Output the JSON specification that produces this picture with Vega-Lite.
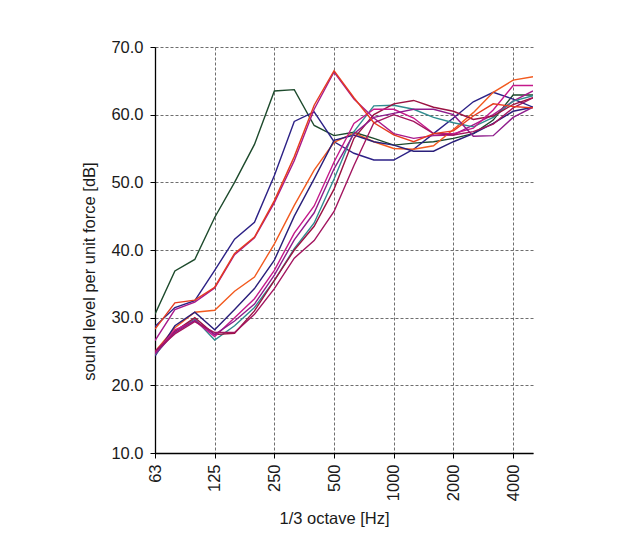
{
  "$schema": "https://vega.github.io/schema/vega-lite/v6.json",
  "width": 378,
  "height": 406,
  "autosize": {"type": "none"},
  "padding": {"left": 155, "top": 47, "right": 96, "bottom": 94},
  "background": "white",
  "config": {
    "font": "Liberation Sans",
    "view": {"stroke": null},
    "axis": {
      "labelFont": "Liberation Sans",
      "titleFont": "Liberation Sans",
      "labelFontSize": 16.5,
      "titleFontSize": 16.5,
      "titleFontWeight": "normal",
      "labelColor": "#1a1a1a",
      "titleColor": "#1a1a1a",
      "domainColor": "#000000",
      "domainWidth": 1.3,
      "tickColor": "#000000",
      "tickSize": 5,
      "gridColor": "#555555",
      "gridDash": [3, 2],
      "gridWidth": 1,
      "gridOpacity": 0.85
    }
  },
  "data": {
    "values": [
      {"series": "A", "band": 0, "level": 30.5}, {"series": "A", "band": 1, "level": 36.9}, {"series": "A", "band": 2, "level": 38.6}, {"series": "A", "band": 3, "level": 44.8}, {"series": "A", "band": 4, "level": 50.0},
      {"series": "A", "band": 5, "level": 55.6}, {"series": "A", "band": 6, "level": 63.5}, {"series": "A", "band": 7, "level": 63.7}, {"series": "A", "band": 8, "level": 58.4}, {"series": "A", "band": 9, "level": 56.9},
      {"series": "A", "band": 10, "level": 57.4}, {"series": "A", "band": 11, "level": 56.5}, {"series": "A", "band": 12, "level": 55.5}, {"series": "A", "band": 13, "level": 55.8}, {"series": "A", "band": 14, "level": 56.0},
      {"series": "A", "band": 15, "level": 56.5}, {"series": "A", "band": 16, "level": 57.2}, {"series": "A", "band": 17, "level": 59.2}, {"series": "A", "band": 18, "level": 62.9}, {"series": "A", "band": 19, "level": 62.9},

      {"series": "B", "band": 0, "level": 28.7}, {"series": "B", "band": 1, "level": 31.5}, {"series": "B", "band": 2, "level": 32.5}, {"series": "B", "band": 3, "level": 37.0}, {"series": "B", "band": 4, "level": 41.6},
      {"series": "B", "band": 5, "level": 44.1}, {"series": "B", "band": 6, "level": 51.0}, {"series": "B", "band": 7, "level": 59.0}, {"series": "B", "band": 8, "level": 60.4}, {"series": "B", "band": 9, "level": 56.0},
      {"series": "B", "band": 10, "level": 54.3}, {"series": "B", "band": 11, "level": 53.3}, {"series": "B", "band": 12, "level": 53.3}, {"series": "B", "band": 13, "level": 54.9}, {"series": "B", "band": 14, "level": 57.2},
      {"series": "B", "band": 15, "level": 59.5}, {"series": "B", "band": 16, "level": 61.9}, {"series": "B", "band": 17, "level": 63.3}, {"series": "B", "band": 18, "level": 62.3}, {"series": "B", "band": 19, "level": 61.1},

      {"series": "C", "band": 0, "level": 26.6}, {"series": "C", "band": 1, "level": 31.2}, {"series": "C", "band": 2, "level": 32.3}, {"series": "C", "band": 3, "level": 34.4}, {"series": "C", "band": 4, "level": 39.3},
      {"series": "C", "band": 5, "level": 41.8}, {"series": "C", "band": 6, "level": 47.0}, {"series": "C", "band": 7, "level": 53.2}, {"series": "C", "band": 8, "level": 60.8}, {"series": "C", "band": 9, "level": 66.3},
      {"series": "C", "band": 10, "level": 62.3}, {"series": "C", "band": 11, "level": 59.5}, {"series": "C", "band": 12, "level": 57.2}, {"series": "C", "band": 13, "level": 56.5}, {"series": "C", "band": 14, "level": 56.9},
      {"series": "C", "band": 15, "level": 57.0}, {"series": "C", "band": 16, "level": 58.5}, {"series": "C", "band": 17, "level": 60.0}, {"series": "C", "band": 18, "level": 62.0}, {"series": "C", "band": 19, "level": 63.5},

      {"series": "D", "band": 0, "level": 25.0}, {"series": "D", "band": 1, "level": 28.5}, {"series": "D", "band": 2, "level": 30.8}, {"series": "D", "band": 3, "level": 31.1}, {"series": "D", "band": 4, "level": 33.9},
      {"series": "D", "band": 5, "level": 36.0}, {"series": "D", "band": 6, "level": 40.9}, {"series": "D", "band": 7, "level": 46.6}, {"series": "D", "band": 8, "level": 51.8}, {"series": "D", "band": 9, "level": 55.9},
      {"series": "D", "band": 10, "level": 57.3}, {"series": "D", "band": 11, "level": 56.0}, {"series": "D", "band": 12, "level": 55.0}, {"series": "D", "band": 13, "level": 54.9}, {"series": "D", "band": 14, "level": 55.4},
      {"series": "D", "band": 15, "level": 57.8}, {"series": "D", "band": 16, "level": 60.3}, {"series": "D", "band": 17, "level": 63.3}, {"series": "D", "band": 18, "level": 65.1}, {"series": "D", "band": 19, "level": 65.6},

      {"series": "E", "band": 0, "level": 24.3}, {"series": "E", "band": 1, "level": 28.8}, {"series": "E", "band": 2, "level": 30.8}, {"series": "E", "band": 3, "level": 28.2}, {"series": "E", "band": 4, "level": 31.2},
      {"series": "E", "band": 5, "level": 34.3}, {"series": "E", "band": 6, "level": 38.5}, {"series": "E", "band": 7, "level": 45.0}, {"series": "E", "band": 8, "level": 50.5}, {"series": "E", "band": 9, "level": 56.2},
      {"series": "E", "band": 10, "level": 57.0}, {"series": "E", "band": 11, "level": 56.0}, {"series": "E", "band": 12, "level": 55.5}, {"series": "E", "band": 13, "level": 54.6}, {"series": "E", "band": 14, "level": 54.6},
      {"series": "E", "band": 15, "level": 56.0}, {"series": "E", "band": 16, "level": 57.2}, {"series": "E", "band": 17, "level": 58.7}, {"series": "E", "band": 18, "level": 60.5}, {"series": "E", "band": 19, "level": 61.1},

      {"series": "F", "band": 0, "level": 24.5}, {"series": "F", "band": 1, "level": 28.0}, {"series": "F", "band": 2, "level": 29.8}, {"series": "F", "band": 3, "level": 26.7}, {"series": "F", "band": 4, "level": 28.8},
      {"series": "F", "band": 5, "level": 31.5}, {"series": "F", "band": 6, "level": 35.5}, {"series": "F", "band": 7, "level": 40.2}, {"series": "F", "band": 8, "level": 44.0}, {"series": "F", "band": 9, "level": 50.5},
      {"series": "F", "band": 10, "level": 57.5}, {"series": "F", "band": 11, "level": 61.3}, {"series": "F", "band": 12, "level": 61.4}, {"series": "F", "band": 13, "level": 60.8}, {"series": "F", "band": 14, "level": 59.6},
      {"series": "F", "band": 15, "level": 58.8}, {"series": "F", "band": 16, "level": 58.2}, {"series": "F", "band": 17, "level": 59.6}, {"series": "F", "band": 18, "level": 62.0}, {"series": "F", "band": 19, "level": 62.8},

      {"series": "G", "band": 0, "level": 25.0}, {"series": "G", "band": 1, "level": 28.0}, {"series": "G", "band": 2, "level": 30.0}, {"series": "G", "band": 3, "level": 27.5}, {"series": "G", "band": 4, "level": 27.7},
      {"series": "G", "band": 5, "level": 31.0}, {"series": "G", "band": 6, "level": 35.5}, {"series": "G", "band": 7, "level": 40.0}, {"series": "G", "band": 8, "level": 43.5}, {"series": "G", "band": 9, "level": 49.0},
      {"series": "G", "band": 10, "level": 56.5}, {"series": "G", "band": 11, "level": 60.0}, {"series": "G", "band": 12, "level": 61.6}, {"series": "G", "band": 13, "level": 62.1}, {"series": "G", "band": 14, "level": 61.1},
      {"series": "G", "band": 15, "level": 60.5}, {"series": "G", "band": 16, "level": 59.3}, {"series": "G", "band": 17, "level": 59.8}, {"series": "G", "band": 18, "level": 61.5}, {"series": "G", "band": 19, "level": 62.5},

      {"series": "H", "band": 0, "level": 24.8}, {"series": "H", "band": 1, "level": 28.2}, {"series": "H", "band": 2, "level": 29.5}, {"series": "H", "band": 3, "level": 27.2}, {"series": "H", "band": 4, "level": 30.0},
      {"series": "H", "band": 5, "level": 32.8}, {"series": "H", "band": 6, "level": 37.0}, {"series": "H", "band": 7, "level": 42.5}, {"series": "H", "band": 8, "level": 46.5}, {"series": "H", "band": 9, "level": 53.0},
      {"series": "H", "band": 10, "level": 58.7}, {"series": "H", "band": 11, "level": 60.8}, {"series": "H", "band": 12, "level": 60.8}, {"series": "H", "band": 13, "level": 59.5}, {"series": "H", "band": 14, "level": 57.2},
      {"series": "H", "band": 15, "level": 57.2}, {"series": "H", "band": 16, "level": 58.0}, {"series": "H", "band": 17, "level": 60.7}, {"series": "H", "band": 18, "level": 64.3}, {"series": "H", "band": 19, "level": 64.3},

      {"series": "I", "band": 0, "level": 24.6}, {"series": "I", "band": 1, "level": 27.8}, {"series": "I", "band": 2, "level": 29.6}, {"series": "I", "band": 3, "level": 27.5}, {"series": "I", "band": 4, "level": 29.5},
      {"series": "I", "band": 5, "level": 32.0}, {"series": "I", "band": 6, "level": 36.3}, {"series": "I", "band": 7, "level": 41.5}, {"series": "I", "band": 8, "level": 45.5}, {"series": "I", "band": 9, "level": 52.0},
      {"series": "I", "band": 10, "level": 57.2}, {"series": "I", "band": 11, "level": 59.6}, {"series": "I", "band": 12, "level": 60.2}, {"series": "I", "band": 13, "level": 60.8}, {"series": "I", "band": 14, "level": 60.8},
      {"series": "I", "band": 15, "level": 60.0}, {"series": "I", "band": 16, "level": 56.8}, {"series": "I", "band": 17, "level": 56.9}, {"series": "I", "band": 18, "level": 59.6}, {"series": "I", "band": 19, "level": 61.1},

      {"series": "J", "band": 0, "level": 25.0}, {"series": "J", "band": 1, "level": 27.6}, {"series": "J", "band": 2, "level": 29.4}, {"series": "J", "band": 3, "level": 27.8}, {"series": "J", "band": 4, "level": 27.8},
      {"series": "J", "band": 5, "level": 30.5}, {"series": "J", "band": 6, "level": 34.3}, {"series": "J", "band": 7, "level": 38.8}, {"series": "J", "band": 8, "level": 41.4}, {"series": "J", "band": 9, "level": 45.7},
      {"series": "J", "band": 10, "level": 52.5}, {"series": "J", "band": 11, "level": 58.8}, {"series": "J", "band": 12, "level": 60.0}, {"series": "J", "band": 13, "level": 59.0}, {"series": "J", "band": 14, "level": 57.2},
      {"series": "J", "band": 15, "level": 57.0}, {"series": "J", "band": 16, "level": 57.5}, {"series": "J", "band": 17, "level": 58.6}, {"series": "J", "band": 18, "level": 61.0}, {"series": "J", "band": 19, "level": 62.5},

      {"series": "K", "band": 0, "level": 28.3}, {"series": "K", "band": 1, "level": 32.2}, {"series": "K", "band": 2, "level": 32.6}, {"series": "K", "band": 3, "level": 34.5}, {"series": "K", "band": 4, "level": 39.5},
      {"series": "K", "band": 5, "level": 41.9}, {"series": "K", "band": 6, "level": 47.3}, {"series": "K", "band": 7, "level": 53.8}, {"series": "K", "band": 8, "level": 61.4}, {"series": "K", "band": 9, "level": 66.5},
      {"series": "K", "band": 10, "level": 62.5}, {"series": "K", "band": 11, "level": 58.8}, {"series": "K", "band": 12, "level": 57.0}, {"series": "K", "band": 13, "level": 56.0}, {"series": "K", "band": 14, "level": 57.2},
      {"series": "K", "band": 15, "level": 57.6}, {"series": "K", "band": 16, "level": 59.8}, {"series": "K", "band": 17, "level": 61.6}, {"series": "K", "band": 18, "level": 61.2}, {"series": "K", "band": 19, "level": 61.0}
    ]
  },
  "mark": {"type": "line", "strokeWidth": 1.4, "clip": true},
  "encoding": {
    "x": {
      "field": "band",
      "type": "quantitative",
      "scale": {"domain": [0, 19], "nice": false, "zero": false},
      "axis": {
        "values": [0, 3, 6, 9, 12, 15, 18],
        "labelExpr": "['63','80','100','125','160','200','250','315','400','500','630','800','1000','1250','1600','2000','2500','3150','4000','5000'][datum.value]",
        "labelAngle": -90,
        "labelAlign": "right",
        "labelBaseline": "middle",
        "labelPadding": 6,
        "labelFlush": false,
        "labelOverlap": false,
        "grid": true,
        "title": "1/3 octave [Hz]",
        "titleX": 179,
        "titleY": 70,
        "titleAlign": "center",
        "titleBaseline": "alphabetic"
      }
    },
    "y": {
      "field": "level",
      "type": "quantitative",
      "scale": {"domain": [10, 70], "nice": false, "zero": false},
      "axis": {
        "values": [10, 20, 30, 40, 50, 60, 70],
        "format": ".1f",
        "labelPadding": 7,
        "labelFlush": false,
        "grid": true,
        "title": "sound level per unit force [dB]",
        "titleAngle": -90,
        "titleX": -66,
        "titleY": 224,
        "titleAlign": "center",
        "titleBaseline": "middle"
      }
    },
    "color": {
      "field": "series",
      "type": "nominal",
      "legend": null,
      "scale": {
        "domain": ["A", "B", "C", "D", "E", "F", "G", "H", "I", "J", "K"],
        "range": ["#1d4a2c", "#2c2186", "#a8198c", "#f25a1f", "#2a1f7a", "#2f8c8f", "#9b1242", "#c4198a", "#8e1c8c", "#a3155f", "#e63b1f"]
      }
    },
    "strokeWidth": {
      "condition": {"test": "datum.series === 'K'", "value": 2.1},
      "value": 1.4
    },
    "order": {"field": "band", "type": "quantitative"}
  }
}
